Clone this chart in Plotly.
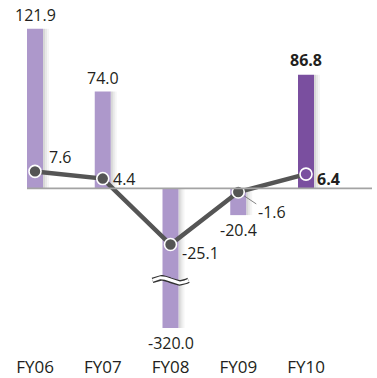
import plotly.graph_objects as go
import math

categories = ["FY06", "FY07", "FY08", "FY09", "FY10"]
bar_values = [121.9, 74.0, -320.0, -20.4, 86.8]
bar_labels = ["121.9", "74.0", "-320.0", "-20.4", "86.8"]
line_values = [7.6, 4.4, -25.1, -1.6, 6.4]
line_labels = ["7.6", "4.4", "-25.1", "-1.6", "6.4"]

LIGHT = "#ad98cb"
DARK = "#7a4f9f"
LINE = "#555555"
TXT = "#231f20"
FONT = "Open Sans"

xs = list(range(len(categories)))
bar_colors = [LIGHT, LIGHT, LIGHT, LIGHT, DARK]

# axis scaling (pixels per unit)
PX_H = 310.0
px_per_bar = 1.318
px_per_line = 2.25
zero_from_top = 169.5
y1_top = zero_from_top / px_per_bar
y1_bot = -(PX_H - zero_from_top) / px_per_bar
ratio = px_per_bar / px_per_line
y2_top, y2_bot = y1_top * ratio, y1_bot * ratio

cat_px = 67.75
first_px = 35.0
W = 377
x_min = (0 - first_px) / cat_px
x_max = (W - first_px) / cat_px
bar_w = 16 / cat_px

fig = go.Figure()

# soft shadows
for w_px, a in [(6, 0.04), (4, 0.05), (2, 0.07)]:
    fig.add_trace(go.Bar(x=xs, y=bar_values, width=w_px / cat_px, offset=bar_w / 2,
                         marker=dict(color=f"rgba(0,0,0,{a})", line=dict(width=0)),
                         hoverinfo="skip", showlegend=False))
# bars
fig.add_trace(go.Bar(x=xs, y=bar_values, width=bar_w, offset=-bar_w / 2,
                     marker=dict(color=bar_colors, line=dict(width=0)),
                     showlegend=False))

fig.update_layout(barmode="overlay")

# baseline
fig.add_shape(type="line", xref="x", yref="y",
              x0=(27 - first_px) / cat_px, x1=(372 - first_px) / cat_px, y0=0, y1=0,
              line=dict(color="#a3a3a3", width=1.6), layer="above")

# break symbol on the clipped bar
bi = bar_values.index(min(bar_values))
wx, wy = [], []
yb = -70.2
for k in range(41):
    t = k / 40
    wx.append(bi + (-18 + 36 * t) / cat_px)
    wy.append(yb + 2.6 / px_per_bar * math.sin(2 * math.pi * t))
fig.add_trace(go.Scatter(x=wx, y=wy, mode="lines", line=dict(color="#333333", width=5.5),
                         hoverinfo="skip", showlegend=False))
fig.add_trace(go.Scatter(x=wx, y=wy, mode="lines", line=dict(color="white", width=3),
                         hoverinfo="skip", showlegend=False))

# leader line for FY09 line label
fig.add_trace(go.Scatter(x=[3, 3 + 18 / cat_px], y=[line_values[3], line_values[3] - 12 / px_per_line],
                         mode="lines", line=dict(color="#666666", width=0.8),
                         yaxis="y2", hoverinfo="skip", showlegend=False))

# line
marker_fill = [LINE, LINE, LINE, LINE, DARK]
fig.add_trace(go.Scatter(x=xs, y=line_values, mode="lines+markers", yaxis="y2",
                         line=dict(color=LINE, width=4.5),
                         marker=dict(size=12, color=marker_fill, line=dict(color="white", width=1.6)),
                         showlegend=False))

# bar value labels
bar_label_style = [
    dict(yanchor="bottom", yshift=1, bold=False),
    dict(yanchor="bottom", yshift=1, bold=False),
    dict(yanchor="top", yshift=-2, bold=False),
    dict(yanchor="top", yshift=-2, bold=False),
    dict(yanchor="bottom", yshift=2, bold=True),
]
for i, (v, lab) in enumerate(zip(bar_values, bar_labels)):
    st = bar_label_style[i]
    y = max(v, y1_bot)
    txt = f"<b>{lab}</b>" if st["bold"] else lab
    fig.add_annotation(x=i, y=y, xref="x", yref="y", text=txt, showarrow=False,
                       xanchor="center", yanchor=st["yanchor"], yshift=st["yshift"],
                       font=dict(family=FONT, size=16, color=TXT))

# line value labels (pixel offsets)
line_label_off = [
    dict(dx=12, dy=14, bold=False),
    dict(dx=8, dy=0, bold=False),
    dict(dx=9, dy=-8, bold=False),
    dict(dx=18, dy=-20, bold=False),
    dict(dx=9, dy=-5, bold=True),
]
for i, (v, lab) in enumerate(zip(line_values, line_labels)):
    st = line_label_off[i]
    txt = f"<b>{lab}</b>" if st["bold"] else lab
    fig.add_annotation(x=i, y=v, xref="x", yref="y2", text=txt, showarrow=False,
                       xanchor="left", yanchor="middle", xshift=st["dx"], yshift=st["dy"],
                       font=dict(family=FONT, size=16, color=TXT))

fig.update_layout(
    width=377, height=378,
    margin=dict(l=0, r=0, t=20, b=48),
    paper_bgcolor="white", plot_bgcolor="white",
    xaxis=dict(range=[x_min, x_max], tickmode="array", tickvals=xs, ticktext=categories,
               showgrid=False, zeroline=False, showline=False, ticks="",
               tickfont=dict(family=FONT, size=17, color=TXT), ticklabelstandoff=27),
    yaxis=dict(range=[y1_bot, y1_top], visible=False, showgrid=False, zeroline=False),
    yaxis2=dict(range=[y2_bot, y2_top], overlaying="y", visible=False, showgrid=False, zeroline=False),
    font=dict(family=FONT),
)

fig.write_html("out.html")
